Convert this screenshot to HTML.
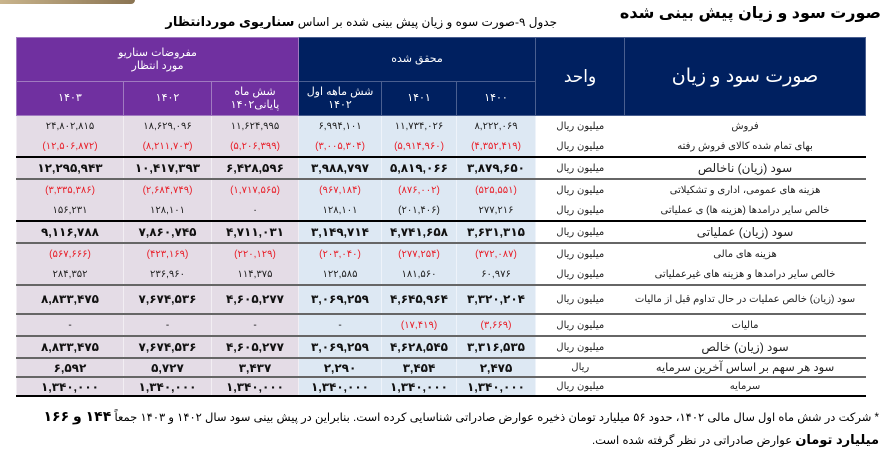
<!DOCTYPE html>
<html><head><meta charset="utf-8"><style>
body{margin:0;width:895px;height:465px;background:#fff;position:relative;overflow:hidden;font-family:"Liberation Sans","DejaVu Sans",sans-serif;}
.bar{position:absolute;left:0;top:0;width:135px;height:4px;background:linear-gradient(90deg,#c9b48c,#8a7452);border-radius:0 0 6px 0}
.title{position:absolute;right:14px;top:3px;font-size:16px;font-weight:bold;direction:rtl;color:#000}
.sub{position:absolute;left:245px;width:312px;top:14px;font-size:12px;direction:rtl;text-align:center;color:#000;white-space:nowrap}
table{position:absolute;left:16px;top:37px;border-collapse:collapse;table-layout:fixed;width:849px}
td{padding:0;text-align:center;vertical-align:middle;white-space:nowrap;overflow:hidden;line-height:13px}
.hp{background:#7030a0;color:#fff;font-size:11px;border:1px solid #a07ac0}
.hn{background:#002060;color:#fff;font-size:11px;border:1px solid #4a5f90}
.big{font-size:17px}
.p{background:#e4dce6;border-left:1px solid #f2eef3;border-right:1px solid #f2eef3}
.b{background:#dde8f3;border-left:1px solid #eef3fa;border-right:1px solid #eef3fa}
.w{background:#fff}
tr.r td{height:20px;font-size:10px;color:#222}
tr.r td.n{direction:ltr}
tr.red td.n{color:#e8202a}
tr.bd td.n{font-weight:bold;font-size:12px;color:#111}
td.u{font-size:11px;direction:rtl;color:#000}
td.l{direction:rtl;font-size:10px;color:#111}
tr.bd td.l.k{font-size:12px}
tr.t2 td{border-top:2px solid #000}
tr.t3 td{border-top:2px solid #666}
tr.sm td{height:17px !important;line-height:12px}
.foot{position:absolute;right:16px;top:406px;width:870px;direction:rtl;font-size:11.5px;line-height:21px;color:#000}
</style></head><body>
<div class="bar"></div>
<div class="title">صورت سود و زیان پیش بینی شده</div>
<div class="sub">جدول ۹-صورت سوه و زیان پیش بینی شده بر اساس <b style="font-size:13px">سناریوی موردانتظار</b></div>
<table>
<colgroup><col style="width:107px"><col style="width:88px"><col style="width:87px"><col style="width:83px"><col style="width:75px"><col style="width:79px"><col style="width:89px"><col style="width:241px"></colgroup>
<tr style="height:44px"><td class="hp" colspan="3">مفروضات سناریو<br>مورد انتظار</td><td class="hn" colspan="3">محقق شده</td><td class="hn big" rowspan="2">واحد</td><td class="hn big" rowspan="2" style="font-size:19px">صورت سود و زیان</td></tr>
<tr style="height:34px"><td class="hp">۱۴۰۳</td><td class="hp">۱۴۰۲</td><td class="hp">شش ماه<br>پایانی۱۴۰۲</td><td class="hn">شش ماهه اول<br>۱۴۰۲</td><td class="hn">۱۴۰۱</td><td class="hn">۱۴۰۰</td></tr>

<tr class="r"><td class="p n">۲۴,۸۰۲,۸۱۵</td><td class="p n">۱۸,۶۲۹,۰۹۶</td><td class="p n">۱۱,۶۲۴,۹۹۵</td><td class="b n">۶,۹۹۴,۱۰۱</td><td class="b n">۱۱,۷۳۴,۰۲۶</td><td class="b n">۸,۲۲۲,۰۶۹</td><td class="w u">میلیون ریال</td><td class="w l">فروش</td></tr>
<tr class="r red"><td class="p n">(۱۲,۵۰۶,۸۷۲)</td><td class="p n">(۸,۲۱۱,۷۰۳)</td><td class="p n">(۵,۲۰۶,۳۹۹)</td><td class="b n">(۳,۰۰۵,۳۰۴)</td><td class="b n">(۵,۹۱۴,۹۶۰)</td><td class="b n">(۴,۳۵۲,۴۱۹)</td><td class="w u">میلیون ریال</td><td class="w l">بهای تمام شده کالای فروش رفته</td></tr>
<tr class="r bd t2"><td class="p n">۱۲,۲۹۵,۹۴۳</td><td class="p n">۱۰,۴۱۷,۳۹۳</td><td class="p n">۶,۴۲۸,۵۹۶</td><td class="b n">۳,۹۸۸,۷۹۷</td><td class="b n">۵,۸۱۹,۰۶۶</td><td class="b n">۳,۸۷۹,۶۵۰</td><td class="w u">میلیون ریال</td><td class="w l k">سود (زیان) ناخالص</td></tr>
<tr class="r red t3"><td class="p n">(۳,۳۳۵,۳۸۶)</td><td class="p n">(۲,۶۸۴,۷۴۹)</td><td class="p n">(۱,۷۱۷,۵۶۵)</td><td class="b n">(۹۶۷,۱۸۴)</td><td class="b n">(۸۷۶,۰۰۲)</td><td class="b n">(۵۲۵,۵۵۱)</td><td class="w u">میلیون ریال</td><td class="w l">هزینه های عمومی، اداری و تشکیلاتی</td></tr>
<tr class="r"><td class="p n">۱۵۶,۲۳۱</td><td class="p n">۱۲۸,۱۰۱</td><td class="p n">۰</td><td class="b n">۱۲۸,۱۰۱</td><td class="b n">(۲۰۱,۴۰۶)</td><td class="b n">۲۷۷,۲۱۶</td><td class="w u">میلیون ریال</td><td class="w l">خالص سایر درامدها (هزینه ها) ی عملیاتی</td></tr>
<tr class="r bd t2"><td class="p n">۹,۱۱۶,۷۸۸</td><td class="p n">۷,۸۶۰,۷۴۵</td><td class="p n">۴,۷۱۱,۰۳۱</td><td class="b n">۳,۱۴۹,۷۱۴</td><td class="b n">۴,۷۴۱,۶۵۸</td><td class="b n">۳,۶۳۱,۳۱۵</td><td class="w u">میلیون ریال</td><td class="w l k">سود (زیان) عملیاتی</td></tr>
<tr class="r red t3"><td class="p n">(۵۶۷,۶۶۶)</td><td class="p n">(۴۲۳,۱۶۹)</td><td class="p n">(۲۲۰,۱۲۹)</td><td class="b n">(۲۰۳,۰۴۰)</td><td class="b n">(۲۷۷,۲۵۴)</td><td class="b n">(۳۷۲,۰۸۷)</td><td class="w u">میلیون ریال</td><td class="w l">هزینه های مالی</td></tr>
<tr class="r"><td class="p n">۲۸۴,۳۵۲</td><td class="p n">۲۳۶,۹۶۰</td><td class="p n">۱۱۴,۳۷۵</td><td class="b n">۱۲۲,۵۸۵</td><td class="b n">۱۸۱,۵۶۰</td><td class="b n">۶۰,۹۷۶</td><td class="w u">میلیون ریال</td><td class="w l">خالص سایر درامدها و هزینه های غیرعملیاتی</td></tr>
<tr class="r bd t3"><td class="p n" style="height:27px">۸,۸۳۳,۴۷۵</td><td class="p n">۷,۶۷۴,۵۳۶</td><td class="p n">۴,۶۰۵,۲۷۷</td><td class="b n">۳,۰۶۹,۲۵۹</td><td class="b n">۴,۶۴۵,۹۶۴</td><td class="b n">۳,۳۲۰,۲۰۴</td><td class="w u">میلیون ریال</td><td class="w l">سود (زیان) خالص عملیات در حال تداوم قبل از مالیات</td></tr>
<tr class="r red t3"><td class="p n" style="color:#111">-</td><td class="p n" style="color:#111">-</td><td class="p n" style="color:#111">-</td><td class="b n" style="color:#111">-</td><td class="b n">(۱۷,۴۱۹)</td><td class="b n">(۳,۶۶۹)</td><td class="w u">میلیون ریال</td><td class="w l">مالیات</td></tr>
<tr class="r bd t3"><td class="p n">۸,۸۳۳,۴۷۵</td><td class="p n">۷,۶۷۴,۵۳۶</td><td class="p n">۴,۶۰۵,۲۷۷</td><td class="b n">۳,۰۶۹,۲۵۹</td><td class="b n">۴,۶۲۸,۵۴۵</td><td class="b n">۳,۳۱۶,۵۳۵</td><td class="w u">میلیون ریال</td><td class="w l k">سود (زیان) خالص</td></tr>
<tr class="r bd t3 sm"><td class="p n">۶,۵۹۲</td><td class="p n">۵,۷۲۷</td><td class="p n">۳,۴۳۷</td><td class="b n">۲,۲۹۰</td><td class="b n">۳,۴۵۴</td><td class="b n">۲,۴۷۵</td><td class="w u">ریال</td><td class="w l" style="font-size:11.5px">سود هر سهم بر اساس آخرین سرمایه</td></tr>
<tr class="r bd t3 sm"><td class="p n" style="border-bottom:2px solid #000">۱,۳۴۰,۰۰۰</td><td class="p n" style="border-bottom:2px solid #000">۱,۳۴۰,۰۰۰</td><td class="p n" style="border-bottom:2px solid #000">۱,۳۴۰,۰۰۰</td><td class="b n" style="border-bottom:2px solid #000">۱,۳۴۰,۰۰۰</td><td class="b n" style="border-bottom:2px solid #000">۱,۳۴۰,۰۰۰</td><td class="b n" style="border-bottom:2px solid #000">۱,۳۴۰,۰۰۰</td><td class="w u" style="border-bottom:2px solid #000">میلیون ریال</td><td class="w l" style="border-bottom:2px solid #000">سرمایه</td></tr>
</table>
<div class="foot">* شرکت در شش ماه اول سال مالی ۱۴۰۲، حدود ۵۶ میلیارد تومان ذخیره عوارض صادراتی شناسایی کرده است. بنابراین در پیش بینی سود سال ۱۴۰۲ و ۱۴۰۳ جمعاً <b style="font-size:14px">۱۴۴ و ۱۶۶</b><br><b style="font-size:13px">میلیارد تومان</b> عوارض صادراتی در نظر گرفته شده است.</div>
</body></html>
